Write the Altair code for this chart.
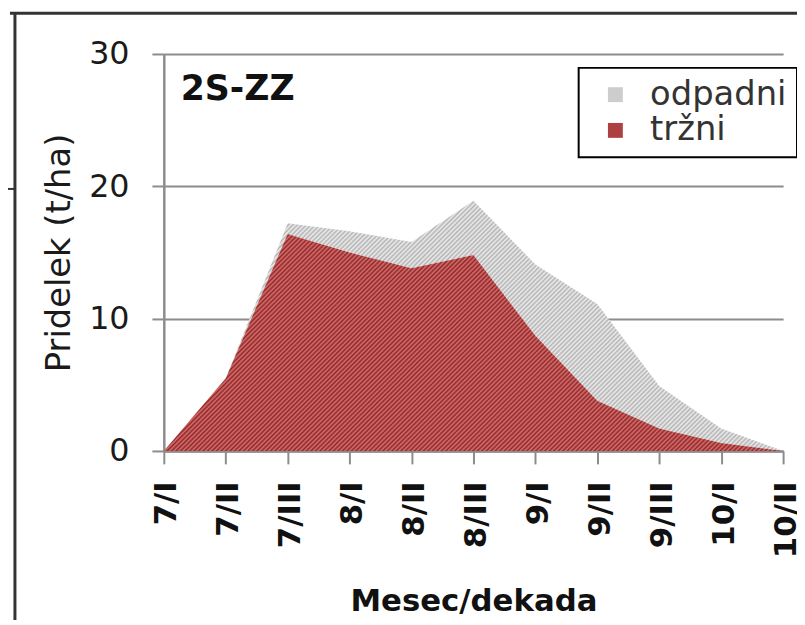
import math
import altair as alt
import pandas as pd

# ---- data ----
categories = ["7/I", "7/II", "7/III", "8/I", "8/II", "8/III", "9/I", "9/II", "9/III", "10/I", "10/II"]
trzni = [0, 5.5, 16.4, 15.0, 13.8, 14.8, 8.7, 3.8, 1.7, 0.6, 0]
odpadni = [0, 0, 0.8, 1.6, 2.0, 4.1, 5.4, 7.3, 3.2, 1.1, 0]
series_names = ["odpadni", "tržni"]
y_ticks = [0, 10, 20, 30]
panel_label = "2S-ZZ"

total = [t + o for t, o in zip(trzni, odpadni)]
df = pd.DataFrame({"dekada": categories, "trzni": trzni, "total": total})
legend_df = pd.DataFrame({"serija": series_names})
one = pd.DataFrame({"k": [0]})

PW, PH, YMAX = 624, 400, 30
AXIS_GREY = "#8c8c8c"
FONT = "DejaVu Sans"
TXT = "#1a1a1a"


def hatch(dark, light, bw, bh, period=3.2):
    r = bh / bw
    s = (1 + r) / (1 + r * r)
    d = (bw + bh) / math.sqrt(2)
    n = int(d / period)
    stops = []
    for i in range(n):
        stops.append(alt.GradientStop(offset=i / n, color=dark))
        stops.append(alt.GradientStop(offset=(i + 0.5) / n, color=light))
    stops.append(alt.GradientStop(offset=1, color=dark))
    return alt.LinearGradient(gradient="linear", stops=stops, x1=0, y1=0, x2=s, y2=s * r)


red_fill = hatch("#942424", "#d27272", PW, max(trzni) / YMAX * PH)
grey_fill = hatch("#b3b3b3", "#ededed", PW, max(total) / YMAX * PH)

x_enc = alt.X(
    "dekada:N",
    sort=categories,
    scale=alt.Scale(type="point", domain=categories, padding=0),
    axis=alt.Axis(
        labelAngle=270, labelAlign="right", labelBaseline="middle",
        labelFontSize=31, labelFontWeight="bold", labelColor="#111", labelFont=FONT,
        labelPadding=17, labelOffset=3,
        tickSize=13, tickColor=AXIS_GREY, tickWidth=2,
        domainColor=AXIS_GREY, domainWidth=2.5, grid=False,
        title="Mesec/dekada", titleFontSize=31, titleFontWeight="bold", titleFont=FONT,
        titleColor="#111", titleY=161, titleBaseline="alphabetic",
    ),
)
y_scale = alt.Scale(domain=[0, YMAX], nice=False)
y_axis = alt.Axis(
    values=y_ticks, grid=True, gridColor=AXIS_GREY, gridWidth=2,
    domainColor=AXIS_GREY, domainWidth=2.5, tickColor=AXIS_GREY, tickWidth=2, tickSize=12,
    labelFontSize=32, labelPadding=23, labelColor=TXT, labelFont=FONT,
    title="Pridelek (t/ha)", titleFontSize=34, titleFontWeight="normal", titleFont=FONT,
    titleColor=TXT, titlePadding=12,
)

red = alt.Chart(df).mark_area(fill=red_fill, strokeWidth=0).encode(
    x=x_enc, y=alt.Y("trzni:Q", scale=y_scale, axis=y_axis)
)
grey = alt.Chart(df).mark_area(fill=grey_fill, strokeWidth=0).encode(
    x=alt.X("dekada:N", sort=categories), y=alt.Y("total:Q"), y2="trzni:Q"
)

legend_layer = alt.Chart(legend_df).mark_square(opacity=0).encode(
    color=alt.Color(
        "serija:N",
        scale=alt.Scale(domain=series_names, range=["#cdcdcd", "#ad4040"]),
        legend=alt.Legend(
            title=None, orient="none", legendX=418, legendY=14,
            symbolType="square", symbolSize=225, symbolOpacity=1, symbolStrokeWidth=0,
            symbolOffset=10, labelFontSize=34, labelFont=FONT, labelColor="#333",
            labelOffset=18, rowPadding=2, padding=10,
            strokeColor="black", fillColor="white",
        ),
    ),
    x=alt.datum(categories[0]), y=alt.datum(0),
)

label = alt.Chart(one).mark_text(
    align="left", baseline="alphabetic", fontSize=35, fontWeight="bold", font=FONT,
    color="#111", dx=17,
).encode(x=alt.datum(categories[0]), y=alt.datum(26.5), text=alt.value(panel_label))

frame_top = alt.Chart(one).mark_rule(color="#333", strokeWidth=3).encode(
    x=alt.value(-155), x2=alt.value(640), y=alt.value(-41)
)
frame_left = alt.Chart(one).mark_rule(color="#333", strokeWidth=3).encode(
    x=alt.value(-150), y=alt.value(-41), y2=alt.value(580)
)
frame_tick = alt.Chart(one).mark_rule(color="#333", strokeWidth=2).encode(
    x=alt.value(-160), x2=alt.value(-150), y=alt.value(136)
)

chart = alt.layer(
    grey, red, legend_layer, label, frame_top, frame_left, frame_tick
).properties(
    width=PW, height=PH,
    autosize=alt.AutoSizeParams(type="none"),
    padding={"left": 157, "top": 44, "right": 14, "bottom": 168},
).configure_view(stroke=None).configure_legend(strokeWidth=2)

chart.save("out.html", embed_options={"renderer": "svg", "actions": False})
